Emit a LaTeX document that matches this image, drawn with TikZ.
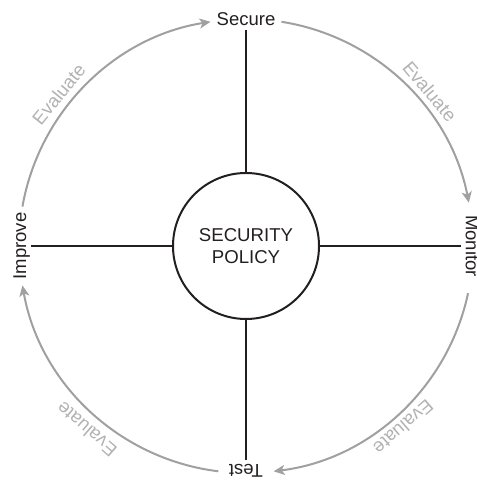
\documentclass[tikz,border=0pt]{standalone}
\usepackage{fontspec}
\setmainfont{Liberation Sans}
\usetikzlibrary{arrows.meta,calc}
\definecolor{ink}{RGB}{35,31,32}
\definecolor{cyc}{RGB}{160,160,160}
\definecolor{evl}{RGB}{178,178,178}
\begin{document}
\begin{tikzpicture}[x=0.5pt,y=0.5pt,
  lbl/.style={font=\fontsize{9.25}{11}\selectfont, text=ink, inner sep=2pt, text height=0.72em, text depth=0pt},
  evaltext/.style={font=\fontsize{9.3}{11}\selectfont, text=evl, inner sep=0pt},
  spoke/.style={draw=ink, line width=1pt},
  cyclearc/.style={draw=cyc, line width=1pt, -{Stealth[length=5.5pt,width=5pt,inset=1.5pt]}},
  centre/.style={circle, draw=ink, line width=1pt, minimum size=73pt, inner sep=0pt, outer sep=0pt, align=center, font=\fontsize{9.3}{10.9}\selectfont, text=ink}]
\useasboundingbox (0,0) rectangle (476,485);
\coordinate (C) at (246,239);
\node[centre] (pol) at (C) {SECURITY\\POLICY};
\node[lbl] (secure) at ($(C)+(90:228)$) {Secure};
\node[lbl, rotate=-90] (monitor) at ($(C)+(0:227)$) {Monitor};
\node[lbl, rotate=180] (test) at ($(C)+(-90:226)$) {Test};
\node[lbl, rotate=90] (improve) at ($(C)+(180:227)$) {Improve};
\draw[spoke] (pol) -- (secure);
\draw[spoke] (pol) -- (monitor);
\draw[spoke] (pol) -- (test);
\draw[spoke] (pol) -- (improve);
\draw[cyclearc] ($(C)+(170:227)$) arc[start angle=170, end angle=99, radius=227];
\draw[cyclearc] ($(C)+(81:227)$) arc[start angle=81, end angle=11, radius=227];
\draw[cyclearc] ($(C)+(-12:227)$) arc[start angle=-12, end angle=-83, radius=227];
\draw[cyclearc] ($(C)+(-97:227)$) arc[start angle=-97, end angle=-170, radius=227];
\node[evaltext, rotate=51] (ev1) at ($(C)+(141:241)$) {Evaluate};
\node[evaltext, rotate=-50] (ev2) at ($(C)+(40:240)$) {Evaluate};
\node[evaltext, rotate=-139] (ev3) at ($(C)+(-49:240)$) {Evaluate};
\node[evaltext, rotate=139] (ev4) at ($(C)+(-131:243)$) {Evaluate};
\end{tikzpicture}
\end{document}
